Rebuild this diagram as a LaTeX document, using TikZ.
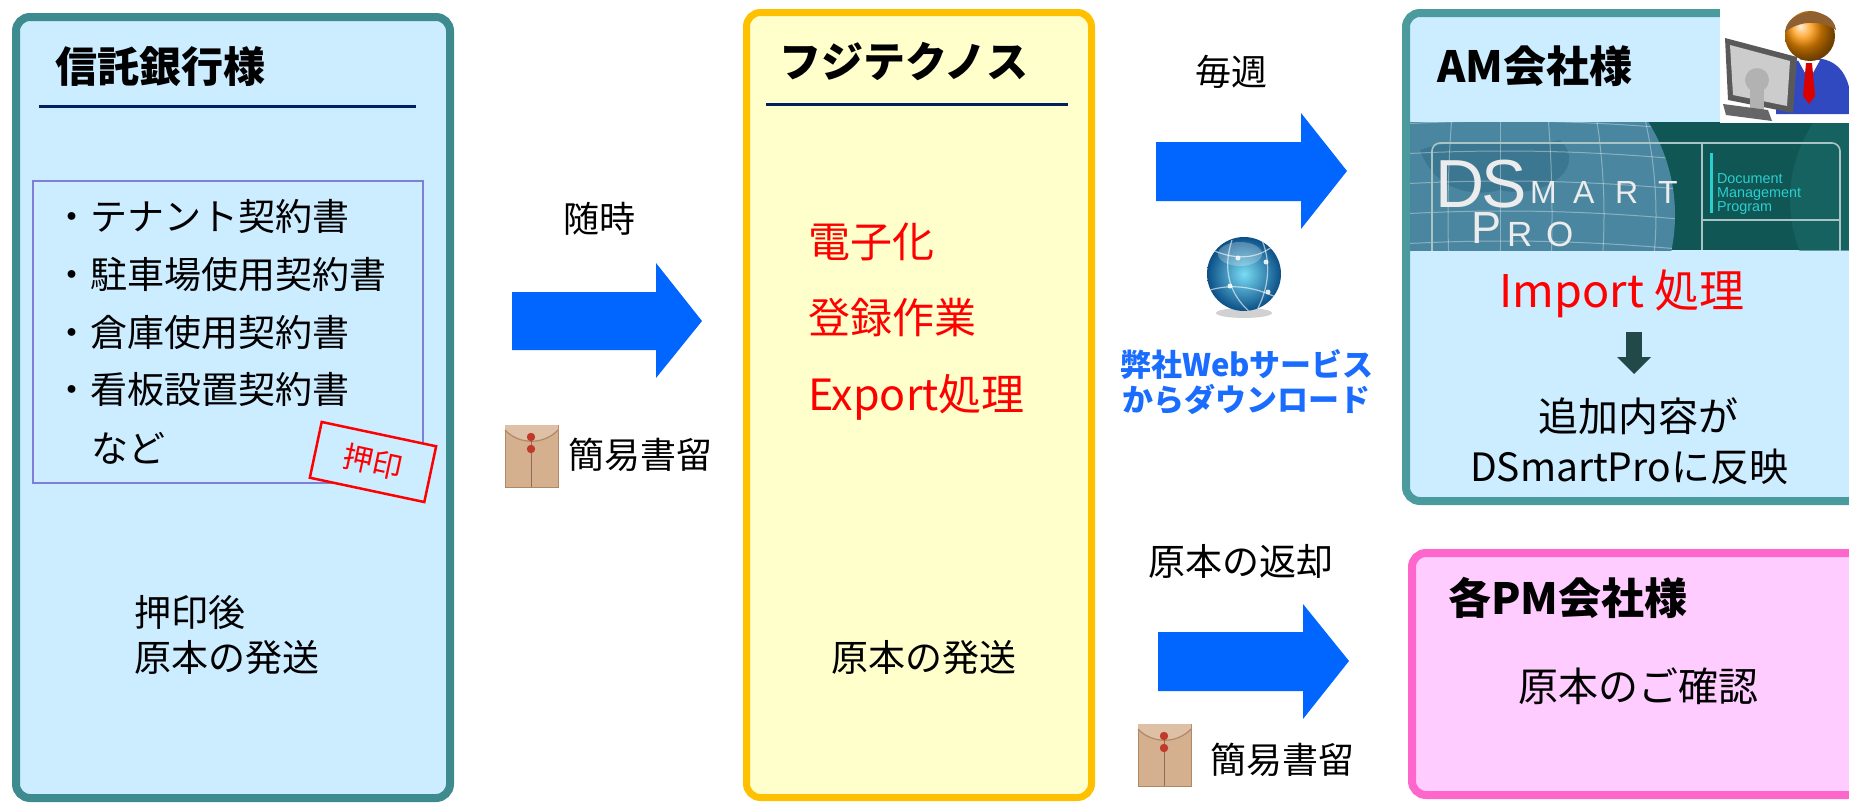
\documentclass[tikz,border=0pt]{standalone}
\usepackage{fontspec}
\setmainfont{Noto Sans CJK JP}
\newfontfamily\latsans{Liberation Sans}
\usetikzlibrary{calc,shadings}
\definecolor{lightB}{HTML}{CCECFF}
\definecolor{tealB}{HTML}{3E8B8F}
\definecolor{tealA}{HTML}{4A9A9E}
\definecolor{navyL}{HTML}{002060}
\definecolor{purpleB}{HTML}{7F7FD8}
\definecolor{yellowF}{HTML}{FFFFCC}
\definecolor{yellowB}{HTML}{FFC000}
\definecolor{arrowB}{HTML}{0066FF}
\definecolor{webB}{HTML}{1A6CFF}
\definecolor{pinkF}{HTML}{FFCCFF}
\definecolor{pinkB}{HTML}{FF66CC}
\definecolor{slateD}{HTML}{234848}
\definecolor{bannerD}{HTML}{0F5654}
\definecolor{bannerL}{HTML}{1C6A68}
\definecolor{globeB}{HTML}{4A86A0}
\definecolor{globeD}{HTML}{2F6A85}
\definecolor{frameG}{HTML}{A9C4C4}
\definecolor{cyanT}{HTML}{2CCFCF}
\definecolor{kraft}{HTML}{D4B08F}
\definecolor{kraftD}{HTML}{B08868}
\definecolor{knot}{HTML}{C0392B}
\definecolor{suitB}{HTML}{3049C0}
\definecolor{webIn}{HTML}{7ADCF5}
\definecolor{webOut}{HTML}{0B4F86}
\newcommand\myfs[1]{\fontsize{#1}{#1}\selectfont}
\tikzset{
  t/.style={inner sep=0pt, outer sep=0pt, anchor=base west},
  tc/.style={inner sep=0pt, outer sep=0pt, anchor=base},
  bodyf/.style={font=\myfs{18.5}},
  titlef/.style={font=\myfs{21}\bfseries},
  redf/.style={font=\myfs{21}, text=red},
  bannerf/.style={text=gray!15},
  boxline/.style={line width=4pt, rounded corners=7pt},
  blockarrow/.style={fill=arrowB},
  envelope/.pic={
    \fill[kraft] (0,0) rectangle (53,62);
    \draw[kraftD, line width=0.4pt] (0,0) rectangle (53,62);
    \fill[kraft!80!white] (0,0) -- (53,0) -- (53,5) .. controls (39,20) and (14,20) .. (0,5) -- cycle;
    \draw[kraftD, line width=0.6pt] (0,5) .. controls (14,20) and (39,20) .. (53,5);
    \draw[kraftD!80!black, line width=0.4pt] (26,14) -- (26,62);
    \fill[knot] (26,12) circle [radius=4.2];
    \fill[knot] (26,24) circle [radius=4.2];
  }
}
\begin{document}
\begin{tikzpicture}[x=0.5pt,y=-0.5pt]
\useasboundingbox (0,0) rectangle (1849,803);
\clip (0,0) rectangle (1849,803);

% ---------------- left box: 信託銀行様
\draw[boxline, draw=tealB, fill=lightB] (16,17) rectangle (450,798);
\node[t, titlef] (bankT) at (55,82) {信託銀行様};
\draw[navyL, line width=1.5pt] (39,106) -- (416,106);
\draw[purpleB, line width=1pt] (33,181) rectangle (423,483);
\node[t, bodyf] (doc1) at (54,230) {・テナント契約書};
\node[t, bodyf] (doc2) at (54,288) {・駐車場使用契約書};
\node[t, bodyf] (doc3) at (54,346) {・倉庫使用契約書};
\node[t, bodyf] (doc4) at (54,403) {・看板設置契約書};
\node[t, bodyf] (doc5) at (91,462) {など};
\node[draw=red, line width=1.25pt, fill=lightB, rotate=-12, minimum width=58.5pt,
      minimum height=28.5pt, inner sep=0pt, text=red, font=\myfs{15}] (stamp) at (373,462) {押印};
\node[t, bodyf] (bankS1) at (134,626) {押印後};
\node[t, bodyf] (bankS2) at (134,671) {原本の発送};

% ---------------- middle box: フジテクノス
\draw[boxline, draw=yellowB, line width=3.5pt, fill=yellowF] (746.5,12.5) rectangle (1091.5,797.5);
\node[t, titlef] (fujiT) at (779,77) {フジテクノス};
\draw[navyL, line width=1.5pt] (766,104) -- (1068,104);
\node[t, redf] (work1) at (808,257) {電子化};
\node[t, redf] (work2) at (808,333) {登録作業};
\node[t, redf, font=\myfs{21.5}] (work3) at (808,410) {Export処理};
\node[t, bodyf] (fujiS) at (831,671) {原本の発送};

% ---------------- arrow 1
\fill[blockarrow] (512,292) -- (656,292) -- (656,263) -- (702,321) -- (656,378) -- (656,350) -- (512,350) -- cycle;
\node[tc, font=\myfs{18}] (zuiji) at (599,232) {随時};
\pic (env1) at (505,425) {envelope};
\node[t, font=\myfs{18}] (kan1) at (568,468) {簡易書留};

% ---------------- arrow 2
\fill[blockarrow] (1156,142) -- (1301,142) -- (1301,113) -- (1347,171) -- (1301,229) -- (1301,201) -- (1156,201) -- cycle;
\node[tc, font=\myfs{18}] (maishu) at (1231,85) {毎週};
\fill[gray!60, opacity=0.6] (1244,313) ellipse [x radius=28, y radius=5];
\shade[inner color=webIn, outer color=webOut] (1244,274) circle [radius=37];
\begin{scope}
  \clip (1244,274) circle [radius=37];
  \draw[white, opacity=0.6, line width=0.6pt] (1212,250) .. controls (1240,262) and (1262,258) .. (1280,240);
  \draw[white, opacity=0.6, line width=0.6pt] (1210,290) .. controls (1238,282) and (1262,290) .. (1282,300);
  \draw[white, opacity=0.6, line width=0.6pt] (1232,240) .. controls (1222,270) and (1230,295) .. (1250,312);
  \draw[white, opacity=0.6, line width=0.6pt] (1262,240) .. controls (1272,265) and (1268,290) .. (1256,312);
  \fill[white, opacity=0.85] (1238,258) circle [radius=2.5];
  \fill[white, opacity=0.85] (1266,262) circle [radius=2.5];
  \fill[white, opacity=0.85] (1230,286) circle [radius=2.5];
  \fill[white, opacity=0.85] (1268,292) circle [radius=2.5];
  \fill[white, opacity=0.25] (1240,254) ellipse [x radius=22, y radius=12];
\end{scope}
\node[tc, font=\myfs{15.5}\bfseries, text=webB] (web1) at (1247,376) {弊社Webサービス};
\node[tc, font=\myfs{15.5}\bfseries, text=webB] (web2) at (1246,411) {からダウンロード};

% ---------------- arrow 3
\fill[blockarrow] (1158,632) -- (1303,632) -- (1303,604) -- (1349,661) -- (1303,719) -- (1303,691) -- (1158,691) -- cycle;
\node[t, bodyf] (henkyaku) at (1148,575) {原本の返却};
\pic (env2) at (1138,724) {envelope};
\node[t, font=\myfs{18}] (kan2) at (1210,773) {簡易書留};

% ---------------- AM box
\draw[boxline, draw=tealA, fill=lightB] (1406,13) rectangle (1862,501);
\node[t, font=\myfs{21.5}\bfseries] (amT) at (1437,82) {AM会社様};
% banner
\begin{scope}
  \clip (1410,122) rectangle (1849,250);
  \fill[bannerD] (1410,122) rectangle (1849,250);
  \fill[bannerL, opacity=0.6] (1930,200) circle [radius=140];
  \fill[globeB] (1500,215) circle [radius=175];
  \begin{scope}
    \clip (1500,215) circle [radius=175];
    \fill[globeD, opacity=0.5] (1420,150) .. controls (1460,135) and (1520,150) .. (1560,140) .. controls (1590,170) and (1540,200) .. (1500,190) .. controls (1460,200) and (1430,180) .. cycle;
    \foreach \k in {-120,-80,-40,0,40,80,120} {
      \draw[white, opacity=0.35, line width=0.5pt] (1500+\k,40) .. controls (1500+1.4*\k,160) and (1500+1.4*\k,270) .. (1500+\k,390);
    }
    \foreach \k in {130,160,190,220,250} {
      \draw[white, opacity=0.35, line width=0.5pt] (1320,\k) .. controls (1450,\k-12) and (1560,\k-12) .. (1690,\k);
    }
  \end{scope}
  \draw[frameG, line width=0.8pt, rounded corners=4pt] (1432,143) rectangle (1840,262);
  \draw[frameG, line width=0.8pt] (1702,143) -- (1702,250);
  \draw[frameG, line width=0.8pt] (1702,220) -- (1840,220);
  \fill[cyanT] (1710,153) rectangle (1713,213);
  \node[t, bannerf, font=\latsans\myfs{34}] (bD) at (1435,207) {D};
  \node[t, bannerf, font=\latsans\myfs{34}] (bS) at (1481,207) {S};
  \node[t, bannerf, font=\latsans\myfs{16}] (bM) at (1530,203) {M};
  \node[t, bannerf, font=\latsans\myfs{16}] (bA) at (1573,203) {A};
  \node[t, bannerf, font=\latsans\myfs{16}] (bR) at (1615,203) {R};
  \node[t, bannerf, font=\latsans\myfs{16}] (bT) at (1658,203) {T};
  \node[t, bannerf, font=\latsans\myfs{22.5}] (bP) at (1471,243) {P};
  \node[t, bannerf, font=\latsans\myfs{17.5}] (bR2) at (1507,246) {R};
  \node[t, bannerf, font=\latsans\myfs{17.5}] (bO) at (1546,246) {O};
  \node[t, font=\latsans\myfs{7.2}, text=cyanT] (bDoc) at (1717,183) {Document};
  \node[t, font=\latsans\myfs{7.2}, text=cyanT] (bMan) at (1717,197) {Management};
  \node[t, font=\latsans\myfs{7.2}, text=cyanT] (bPro) at (1717,211) {Program};
\end{scope}
% person icon
\fill[white] (1720,7) rectangle (1855,123);
\fill[suitB] (1776,114) .. controls (1776,72) and (1790,58) .. (1812,58) .. controls (1838,58) and (1852,74) .. (1852,114) -- cycle;
\fill[white] (1798,60) -- (1820,60) -- (1809,80) -- cycle;
\fill[red!85!black] (1806,63) -- (1812,63) -- (1815,96) -- (1809,104) -- (1803,96) -- cycle;
\shade[ball color=orange!85!yellow] (1810,36) circle [radius=25];
\fill[brown!75!black] (1785,32) .. controls (1787,7) and (1833,5) .. (1836,30) .. controls (1822,20) and (1800,20) .. cycle;
\fill[gray!70!black] (1725,38) -- (1797,57) -- (1793,113) -- (1728,100) -- cycle;
\fill[gray!40] (1730,45) -- (1790,61) -- (1787,106) -- (1733,95) -- cycle;
\fill[gray!60] (1750,84) rectangle (1764,112);
\fill[gray!60] (1757,80) circle [radius=12];
\fill[gray!80!black] (1723,104) -- (1768,110) -- (1772,121) -- (1726,115) -- cycle;
% content
\node[tc, font=\myfs{22.5}, text=red] (imp) at (1622,307) {Import 処理};
\fill[slateD] (1626,332) rectangle (1642,357);
\fill[slateD] (1617,357) -- (1651,357) -- (1634,374) -- cycle;
\node[tc, font=\myfs{20}] (add1) at (1638,431) {追加内容が};
\node[tc, font=\myfs{19.5}] (add2) at (1629,481) {DSmartProに反映};

% ---------------- PM box
\draw[boxline, draw=pinkB, fill=pinkF] (1412,553) rectangle (1862,795);
\node[t, font=\myfs{21.5}\bfseries] (pmT) at (1448,614) {各PM会社様};
\node[tc, font=\myfs{20}] (pmC) at (1638,701) {原本のご確認};
\end{tikzpicture}
\end{document}
